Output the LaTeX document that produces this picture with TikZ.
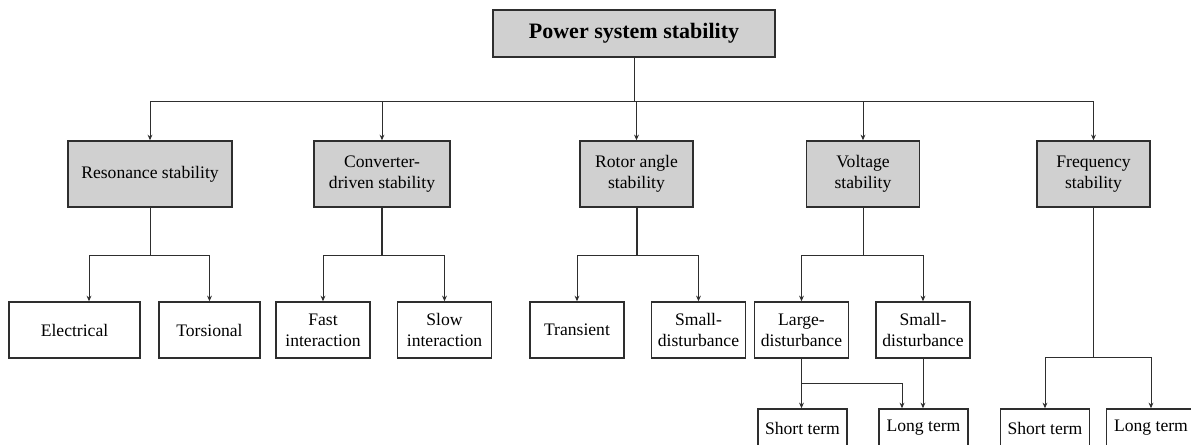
\documentclass[tikz,border=0pt]{standalone}
\usepackage{fontspec}
\setmainfont{Liberation Serif}
\usetikzlibrary{arrows.meta}
\definecolor{boxgray}{HTML}{D0D0D0}
\definecolor{linegray}{HTML}{2E2E2E}

\begin{document}
\begin{tikzpicture}[x=0.5pt,y=-0.5pt,font=\fontsize{8.8}{10.5}\selectfont,
  >={Stealth[length=2.8pt,width=2.4pt]},
  link/.style={draw=linegray,line width=0.5pt},
  stem/.style={draw=linegray,line width=1pt},
  rootbox/.style={draw=linegray,line width=0.75pt,fill=boxgray,inner sep=0pt,
    minimum width=141pt,minimum height=23.5pt,
    font=\fontsize{11}{13}\selectfont\bfseries},
  catbox/.style={draw=linegray,line width=0.75pt,fill=boxgray,inner sep=0pt,
    minimum width=56.5pt,minimum height=33pt,align=center},
  leafbox/.style={draw=linegray,line width=0.75pt,fill=white,inner sep=0pt,
    minimum width=47pt,minimum height=28pt,align=center},
  termbox/.style={leafbox,minimum width=44.5pt,minimum height=19pt}]
  \useasboundingbox (0,0) rectangle (1191,445);
  \clip (0,0) rectangle (1191,445);

  \node[rootbox] (PSS) at (634,33.5) {Power system stability};

  \node[catbox,minimum width=82pt] (RES) at (150,174) {Resonance stability};
  \node[catbox,minimum width=68pt] (CDS) at (382,174) {Converter-\\driven stability};
  \node[catbox] (RAS) at (636.5,174) {Rotor angle\\stability};
  \node[catbox] (VS) at (863,174) {Voltage\\stability};
  \node[catbox] (FS) at (1093.5,174) {Frequency\\stability};

  \node[leafbox,minimum width=65.5pt] (ELE) at (74.5,330) {Electrical};
  \node[leafbox,minimum width=50.5pt] (TOR) at (209.5,330) {Torsional};
  \node[leafbox] (FAST) at (323,330) {Fast\\interaction};
  \node[leafbox] (SLOW) at (444.5,330) {Slow\\interaction};
  \node[leafbox] (TRA) at (577,330) {Transient};
  \node[leafbox] (RSD) at (698.5,330) {Small-\\disturbance};
  \node[leafbox] (VLD) at (801.5,330) {Large-\\disturbance};
  \node[leafbox] (VSD) at (923,330) {Small-\\disturbance};

  \node[termbox] (VST) at (802.5,428) {Short term};
  \node[termbox] (VLT) at (923.5,428) {Long term};
  \node[termbox] (FST) at (1045,428) {Short term};
  \node[termbox] (FLT) at (1151,428) {Long term};

  \coordinate (bus) at (634,101);
  \foreach \c/\l in {RES/48,CDS/48,RAS/48,VS/48,FS/150}
    \path (\c.south) ++(0,\l) coordinate (j\c);
  \path (VLD.south) ++(0,25) coordinate (jVLD);

  \draw[link] (PSS) -- (bus);
  \foreach \c in {RES,CDS,RAS,VS,FS}
    \draw[link,->] (bus) -| (\c);

  \draw[link] (RES.south) -- (jRES);
  \draw[stem] (CDS.south) -- (jCDS);
  \draw[stem] (RAS.south) -- (jRAS);
  \draw[link] (VS.south) -- (jVS);
  \draw[link] (FS.south) -- (jFS);

  \draw[link,->] (jRES) -| ([xshift=7.25pt]ELE.north);
  \draw[link,->] (jRES) -| (TOR);
  \draw[link,->] (jCDS) -| (FAST);
  \draw[link,->] (jCDS) -| (SLOW);
  \draw[link,->] (jRAS) -| (TRA);
  \draw[link,->] (jRAS) -| (RSD);
  \draw[link,->] (jVS) -| (VLD);
  \draw[link,->] (jVS) -| (VSD);

  \draw[link,->] (VLD.south) -- (VLD.south |- VST.north);
  \draw[link,->] (jVLD) -| ([xshift=-10.75pt]VLT.north);
  \draw[link,->] (VSD.south) -- (VSD.south |- VLT.north);
  \draw[link,->] (jFS) -| (FST);
  \draw[link,->] (jFS) -| (FLT);
\end{tikzpicture}
\end{document}
